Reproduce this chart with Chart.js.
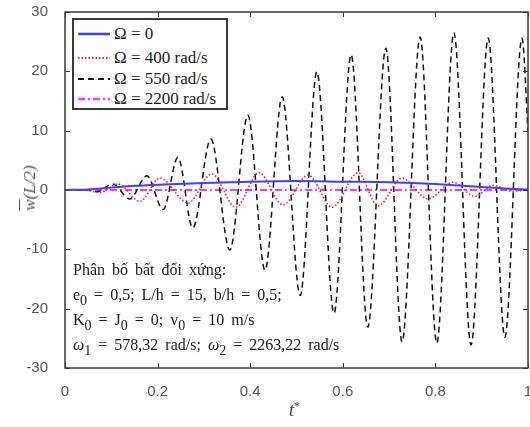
<!DOCTYPE html>
<html>
<head>
<meta charset="utf-8">
<script src="https://cdn.jsdelivr.net/npm/chart.js@4/dist/chart.umd.min.js"></script>
<style>
  html, body { margin: 0; padding: 0; background: #fff; }
  #wrap { position: relative; width: 530px; height: 427px; overflow: hidden; }
  canvas { position: absolute; left: 0; top: 0; }
  #legend { position: absolute; left: 72px; top: 18px; width: 152px; height: 88px; border: 2px solid #3a3a3a; background: #fff; }
  .row { position: absolute; left: 0; height: 22px; display: flex; align-items: center; }
  .row svg { margin-left: 4px; margin-right: 4px; }
  .row span { font-family: "Liberation Serif", serif; font-size: 17px; color: #1a1a1a; }
  #note { position: absolute; left: 73px; top: 257px; font-family: "Liberation Serif", serif; font-size: 16px; color: #1a1a1a; line-height: 25px; word-spacing: 3px; white-space: nowrap; }
  #note sub { font-size: 14px; vertical-align: -5px; line-height: 0; }
  #ytitle { position: absolute; left: 30px; top: 188px; transform: translate(-50%, -50%) rotate(-90deg); font-family: "Liberation Serif", serif; font-style: italic; font-size: 17px; color: #555; white-space: nowrap; }
  #xtitle { position: absolute; left: 289px; top: 399px; font-family: "Liberation Serif", serif; font-style: italic; font-size: 18px; color: #444; }
  #xtitle sup { font-size: 12px; font-style: normal; vertical-align: 6px; }
</style>
</head>
<body>
<div id="wrap">
  <canvas id="c" width="530" height="427"></canvas>
  <div id="legend"></div>
  <div id="note"></div>
  <div id="ytitle"><span style="text-decoration: overline;">w</span>(L/2)</div>
  <div id="xtitle">t<sup>*</sup></div>
</div>
<script>
// ---- Data ----
const seriesNames = ['Ω = 0', 'Ω = 400 rad/s', 'Ω = 550 rad/s', 'Ω = 2200 rad/s'];

const tBlue = [0, 0.05, 0.1, 0.15, 0.2, 0.3, 0.4, 0.5, 0.6, 0.7, 0.8, 0.86, 0.9, 0.95, 1.0];
const vBlue = [0, 0.1, 0.4, 0.7, 0.9, 1.2, 1.4, 1.5, 1.4, 1.3, 1.0, 0.7, 0.5, 0.25, 0.1];

const tRed = [0, 0.04, 0.076, 0.114, 0.162, 0.205, 0.266, 0.317, 0.369, 0.419, 0.471, 0.525, 0.577, 0.633, 0.676, 0.728, 0.784, 0.838, 0.886, 0.924, 0.965, 1.0];
const vRed = [0, 0, -0.4, 1.0, -1.9, 2.0, -2.2, 2.7, -2.9, 2.9, -2.5, 2.5, -2.9, 2.9, -2.7, 2.0, -1.5, 1.3, -1.1, 0.8, -0.2, 0];

const tBlack = [0, 0.05, 0.07, 0.103, 0.140, 0.177, 0.212, 0.244, 0.276, 0.315, 0.356, 0.395, 0.432, 0.469, 0.508, 0.544, 0.581, 0.618, 0.654, 0.693, 0.728, 0.767, 0.803, 0.840, 0.877, 0.914, 0.950, 0.987, 1.0];
const vBlack = [0, 0, -0.3, 1.0, -1.5, 2.4, -3.3, 5.5, -6.4, 8.6, -10.1, 12.6, -13.5, 15.7, -17.8, 19.9, -20.8, 22.8, -23.1, 23.9, -25.6, 25.8, -25.8, 26.5, -26.1, 25.6, -24.8, 25.6, 10.0];

const tMag = [0, 0.25, 0.5, 0.75, 1.0];
const vMag = [0, 0, 0, 0, 0];

const xTicks = [0, 0.2, 0.4, 0.6, 0.8, 1];
const yTicks = [-30, -20, -10, 0, 10, 20, 30];

const noteLines = [
  'Phân bố bất đối xứng:',
  'e<sub>0</sub> = 0,5; L/h = 15, b/h = 0,5;',
  'K<sub>0</sub> = J<sub>0</sub> = 0; v<sub>0</sub> = 10 m/s',
  '<i>ω</i><sub>1</sub> = 578,32 rad/s; <i>ω</i><sub>2</sub> = 2263,22 rad/s'
];

// ---- Styles ----
const styles = [
  { color: '#3f3fff', width: 2, dash: [] },
  { color: '#ff1a1a', width: 1.6, dash: [1.5, 2] },
  { color: '#111111', width: 1.5, dash: [6, 4] },
  { color: '#ff33ff', width: 2, dash: [7, 3, 2, 3] }
];

const pts = (t, v) => t.map((x, i) => ({ x: x, y: v[i] }));
const dataArr = [pts(tBlue, vBlue), pts(tRed, vRed), pts(tBlack, vBlack), pts(tMag, vMag)];

const datasets = dataArr.map((d, i) => ({
  label: seriesNames[i],
  data: d,
  borderColor: styles[i].color,
  borderWidth: styles[i].width,
  borderDash: styles[i].dash,
  pointRadius: 0,
  fill: false,
  cubicInterpolationMode: 'monotone'
}));

const frame = {
  id: 'frame',
  afterDraw(chart) {
    const { ctx, chartArea: a, scales } = chart;
    ctx.save();
    ctx.strokeStyle = '#3a3a3a';
    ctx.lineWidth = 1.5;
    ctx.setLineDash([]);
    ctx.strokeRect(a.left, a.top, a.right - a.left, a.bottom - a.top);
    ctx.lineWidth = 1;
    const L = 5;
    ctx.beginPath();
    xTicks.forEach(v => {
      const px = Math.round(scales.x.getPixelForValue(v)) + 0.5;
      ctx.moveTo(px, a.bottom); ctx.lineTo(px, a.bottom - L);
      ctx.moveTo(px, a.top); ctx.lineTo(px, a.top + L);
    });
    yTicks.forEach(v => {
      const py = Math.round(scales.y.getPixelForValue(v)) + 0.5;
      ctx.moveTo(a.left, py); ctx.lineTo(a.left + L, py);
      ctx.moveTo(a.right, py); ctx.lineTo(a.right - L, py);
    });
    ctx.stroke();
    ctx.restore();
  }
};

new Chart(document.getElementById('c'), {
  type: 'line',
  data: { datasets },
  options: {
    responsive: false,
    animation: false,
    devicePixelRatio: 1,
    layout: { padding: { top: 12, right: 2, left: 0, bottom: 0 } },
    plugins: { legend: { display: false }, tooltip: { enabled: false } },
    scales: {
      x: {
        type: 'linear', min: 0, max: 1,
        afterBuildTicks: s => { s.ticks = xTicks.map(v => ({ value: v })); },
        afterFit: s => { s.height = 59; s.paddingLeft = 0; s.paddingRight = 0; },
        grid: { display: false },
        border: { display: false },
        ticks: { padding: 7, color: '#555', font: { family: 'Liberation Sans', size: 15 }, maxRotation: 0,
                 callback: v => String(v) }
      },
      y: {
        type: 'linear', min: -30, max: 30,
        afterBuildTicks: s => { s.ticks = yTicks.map(v => ({ value: v })); },
        afterFit: s => { s.width = 65; s.paddingTop = 0; s.paddingBottom = 0; },
        grid: { display: false },
        border: { display: false },
        ticks: { padding: 9, color: '#555', font: { family: 'Liberation Sans', size: 15 },
                 callback: v => String(v) }
      }
    }
  },
  plugins: [frame]
});

// ---- Legend (HTML overlay) ----
const leg = document.getElementById('legend');
const rowTops = [3, 27, 48, 68];
seriesNames.forEach((name, i) => {
  const st = styles[i];
  const row = document.createElement('div');
  row.className = 'row';
  row.style.top = rowTops[i] + 'px';
  row.innerHTML = '<svg width="32" height="8"><line x1="0" y1="4" x2="32" y2="4" stroke="' + st.color +
    '" stroke-width="' + (st.width + 0.5) + '" stroke-dasharray="' + (st.dash.length ? st.dash.join(' ') : 'none') +
    '"/></svg><span>' + name + '</span>';
  leg.appendChild(row);
});

document.getElementById('note').innerHTML = noteLines.join('<br>');
</script>
</body>
</html>
